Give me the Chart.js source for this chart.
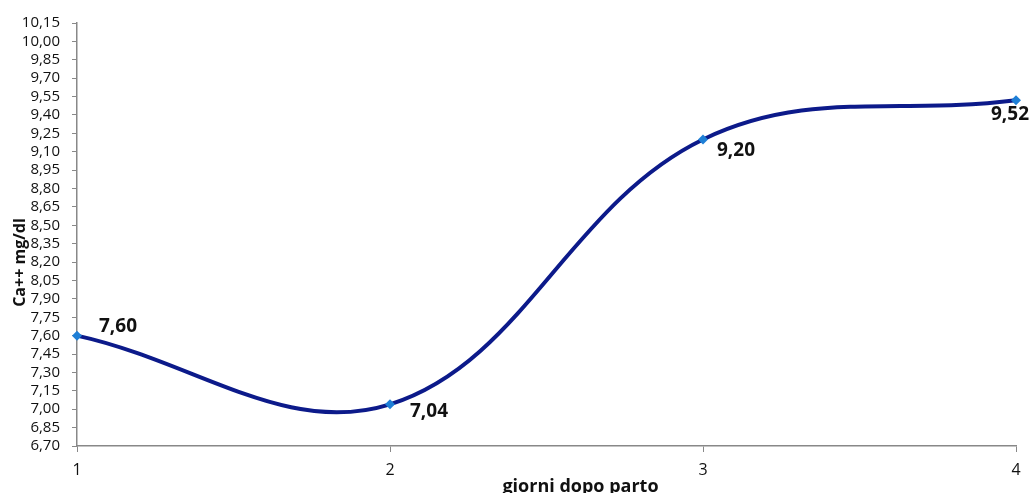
<!DOCTYPE html>
<html>
<head>
<meta charset="utf-8">
<script src="https://cdn.jsdelivr.net/npm/chart.js@4"></script>
<style>
  html, body { margin: 0; padding: 0; background: #fff; }
  #wrap { width: 1034px; height: 493px; }
</style>
</head>
<body>
<div id="wrap"><canvas id="chart" width="1034" height="493"></canvas></div>
<script>
const days = ['1', '2', '3', '4'];
const calcium = [7.60, 7.04, 9.20, 9.52];
const yMin = 6.70;
const yMax = 10.15;
const yStep = 0.15;
const xTitle = 'giorni dopo parto';
const yTitle = 'Ca++ mg/dl';

const fmt = v => v.toFixed(2).replace('.', ',');

// data labels next to each point, plus axis titles drawn over the tick area like the original
const labelOffsets = [[22, -19], [20, -2], [14, 2], [-25, 5]];

const overlay = {
    id: 'overlay',
    afterDatasetsDraw(chart) {
        const ctx = chart.ctx;
        const meta = chart.getDatasetMeta(0);
        ctx.save();
        ctx.fillStyle = '#111';
        ctx.font = 'bold 19px "Open Sans", sans-serif';
        ctx.textAlign = 'left';
        ctx.textBaseline = 'top';
        meta.data.forEach((pt, i) => {
            const [dx, dy] = labelOffsets[i];
            ctx.fillText(fmt(calcium[i]), pt.x + dx, pt.y + dy);
        });

        const area = chart.chartArea;
        ctx.font = 'bold 18px "Open Sans", sans-serif';
        ctx.textAlign = 'center';
        ctx.textBaseline = 'alphabetic';
        ctx.fillText(xTitle, (area.left + area.right) / 2 + 34, 492);

        ctx.translate(25, (area.top + area.bottom) / 2 + 28);
        ctx.rotate(-Math.PI / 2);
        ctx.font = 'bold 16px "Open Sans", sans-serif';
        ctx.textBaseline = 'alphabetic';
        ctx.fillText(yTitle, 0, 0);
        ctx.restore();
    }
};

new Chart(document.getElementById('chart'), {
    type: 'line',
    data: {
        labels: days,
        datasets: [{
            data: calcium,
            borderColor: '#0c1a8a',
            borderWidth: 4,
            tension: 0.38,
            pointStyle: 'rectRot',
            pointRadius: 5,
            pointBackgroundColor: '#1e7fd6',
            pointBorderColor: '#1e7fd6',
            pointBorderWidth: 0,
            clip: false
        }]
    },
    options: {
        responsive: false,
        animation: false,
        layout: { padding: { top: 23, right: 18, left: 0, bottom: 0 } },
        plugins: {
            legend: { display: false },
            tooltip: { enabled: false }
        },
        scales: {
            x: {
                offset: false,
                grid: { drawOnChartArea: false, drawTicks: true, tickLength: 6, color: '#888' },
                border: { display: true, color: '#888', width: 1.5 },
                ticks: { padding: 9, color: '#111', font: { family: 'Open Sans', size: 16 } },
                afterFit: s => { s.height = 47; }
            },
            y: {
                min: yMin,
                max: yMax,
                grid: { drawOnChartArea: false, drawTicks: true, tickLength: 5, color: '#888' },
                border: { display: true, color: '#888', width: 1.5 },
                ticks: {
                    stepSize: yStep,
                    autoSkip: false,
                    padding: 12,
                    color: '#111',
                    font: { family: 'Open Sans', size: 15 },
                    callback: v => fmt(v)
                },
                afterFit: s => { s.width = 77; }
            }
        }
    },
    plugins: [overlay]
});
</script>
</body>
</html>
